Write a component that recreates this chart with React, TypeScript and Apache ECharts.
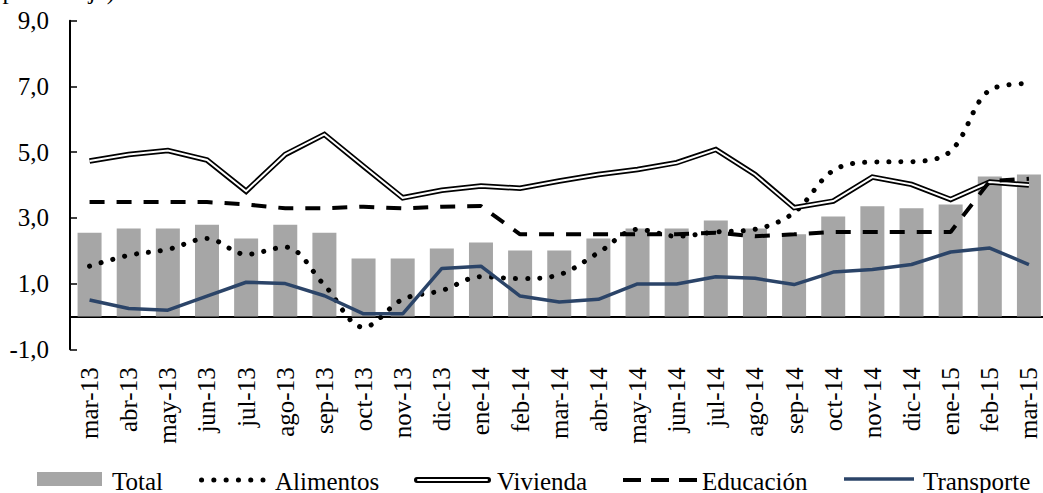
import React, { useEffect, useRef } from "react";
import * as echarts from "echarts";

const categories = [
  "mar-13", "abr-13", "may-13", "jun-13", "jul-13", "ago-13", "sep-13", "oct-13", "nov-13",
  "dic-13", "ene-14", "feb-14", "mar-14", "abr-14", "may-14", "jun-14", "jul-14", "ago-14",
  "sep-14", "oct-14", "nov-14", "dic-14", "ene-15", "feb-15", "mar-15",
];
const total = [2.55, 2.68, 2.68, 2.79, 2.37, 2.79, 2.55, 1.76, 1.76, 2.07, 2.25, 2.01, 2.01, 2.37, 2.68, 2.68, 2.92, 2.68, 2.5, 3.04, 3.35, 3.29, 3.41, 4.26, 4.32];
const alimentos = [1.53, 1.86, 2.04, 2.37, 1.89, 2.11, 0.95, -0.33, 0.52, 0.79, 1.21, 1.15, 1.27, 1.94, 2.65, 2.44, 2.57, 2.65, 3.16, 4.44, 4.7, 4.71, 5.03, 6.89, 7.09];
const vivienda = [4.73, 4.93, 5.05, 4.76, 3.81, 4.93, 5.54, 4.57, 3.61, 3.84, 3.97, 3.9, 4.12, 4.32, 4.47, 4.68, 5.08, 4.32, 3.31, 3.51, 4.24, 4.02, 3.56, 4.09, 4.0];
const educacion = [3.48, 3.48, 3.48, 3.48, 3.41, 3.29, 3.29, 3.34, 3.29, 3.34, 3.36, 2.5, 2.5, 2.5, 2.5, 2.5, 2.55, 2.44, 2.5, 2.57, 2.57, 2.57, 2.57, 4.12, 4.19];
const transporte = [0.5, 0.24, 0.19, 0.62, 1.04, 1.0, 0.63, 0.08, 0.08, 1.46, 1.53, 0.62, 0.44, 0.52, 0.99, 0.99, 1.21, 1.16, 0.97, 1.35, 1.43, 1.58, 1.96, 2.08, 1.58];
const yTicks = { min: -1, max: 9, interval: 2 };
const unitLabel = "(en porcentaje)";

const FONT = "Liberation Serif";
const FS = 25;
const NAVY = "#2B4468";
const GRAY = "#A6A6A6";

export default function App() {
  const ref = useRef<HTMLDivElement>(null);
  useEffect(() => {
    if (!ref.current) return;
    const chart = echarts.init(ref.current, undefined, { renderer: "svg" });
    const ly = 480;
    const txt = (x: number, text: string) => ({
      type: "text",
      x,
      y: ly + 1,
      style: { text, fill: "#000", fontFamily: FONT, fontSize: FS, verticalAlign: "middle", align: "left" },
    });
    chart.setOption({
      animation: false,
      backgroundColor: "#fff",
      textStyle: { fontFamily: FONT },
      grid: { left: 70, top: 20.7, right: 1.5, bottom: 143.7, containLabel: false },
      xAxis: {
        type: "category",
        data: categories,
        boundaryGap: true,
        axisLine: { onZero: true, lineStyle: { color: "#000", width: 2 } },
        axisTick: { inside: true, length: 6, lineStyle: { color: "#000", width: 1.5 } },
        axisLabel: { rotate: 90, margin: 18, color: "#000", fontFamily: FONT, fontSize: FS, interval: 0 },
        splitLine: { show: false },
      },
      yAxis: {
        type: "value",
        min: yTicks.min,
        max: yTicks.max,
        interval: yTicks.interval,
        axisLine: { show: true, lineStyle: { color: "#000", width: 2 } },
        axisTick: { show: true, inside: true, length: 7, lineStyle: { color: "#000", width: 1.5 } },
        axisLabel: {
          margin: 21,
          color: "#000",
          fontFamily: FONT,
          fontSize: FS,
          formatter: (v: number) => v.toFixed(1).replace(".", ","),
        },
        splitLine: { show: false },
      },
      series: [
        { name: "Total", type: "bar", data: total, barWidth: 24, itemStyle: { color: GRAY }, z: 1 },
        {
          name: "Alimentos", type: "line", data: alimentos, smooth: 0.35, symbol: "none", z: 3,
          lineStyle: { color: "#000", width: 5, type: [0.1, 12], cap: "round" },
        },
        {
          name: "Vivienda", type: "line", data: vivienda, symbol: "none", z: 4,
          lineStyle: { color: "#000", width: 5.5, join: "miter" },
        },
        {
          name: "Vivienda (interior)", type: "line", data: vivienda, symbol: "none", z: 5,
          lineStyle: { color: "#fff", width: 2, join: "miter" },
        },
        {
          name: "Educación", type: "line", data: educacion, symbol: "none", z: 6,
          lineStyle: { color: "#000", width: 4, type: [15, 12] },
        },
        {
          name: "Transporte", type: "line", data: transporte, symbol: "none", z: 7,
          lineStyle: { color: NAVY, width: 3.5 },
        },
      ],
      graphic: [
        {
          type: "text", x: 115, y: -10,
          style: { text: unitLabel, fill: "#000", fontFamily: FONT, fontSize: FS, align: "right", verticalAlign: "middle" },
        },
        { type: "rect", shape: { x: 37, y: 472, width: 65, height: 14 }, style: { fill: GRAY } },
        txt(112, "Total"),
        {
          type: "line", shape: { x1: 201.5, y1: ly, x2: 263, y2: ly },
          style: { stroke: "#000", lineWidth: 5, lineDash: [0.1, 12.2], lineCap: "round" },
        },
        txt(275, "Alimentos"),
        { type: "line", shape: { x1: 417, y1: ly, x2: 488, y2: ly }, style: { stroke: "#000", lineWidth: 6, lineCap: "round" } },
        { type: "line", shape: { x1: 418, y1: ly, x2: 487, y2: ly }, style: { stroke: "#fff", lineWidth: 2, lineCap: "round" } },
        txt(497, "Vivienda"),
        {
          type: "line", shape: { x1: 623, y1: ly, x2: 697, y2: ly },
          style: { stroke: "#000", lineWidth: 4, lineDash: [18, 10] },
        },
        txt(702, "Educación"),
        { type: "line", shape: { x1: 844, y1: ly - 1, x2: 914, y2: ly - 1 }, style: { stroke: NAVY, lineWidth: 3.5 } },
        txt(923, "Transporte"),
      ],
    });
    return () => chart.dispose();
  }, []);
  return (
    <div style={{ position: "fixed", left: 0, top: 0, width: 1043, height: 493, overflow: "hidden", background: "#fff" }}>
      <div ref={ref} style={{ width: 1050, height: 493 }} />
    </div>
  );
}
